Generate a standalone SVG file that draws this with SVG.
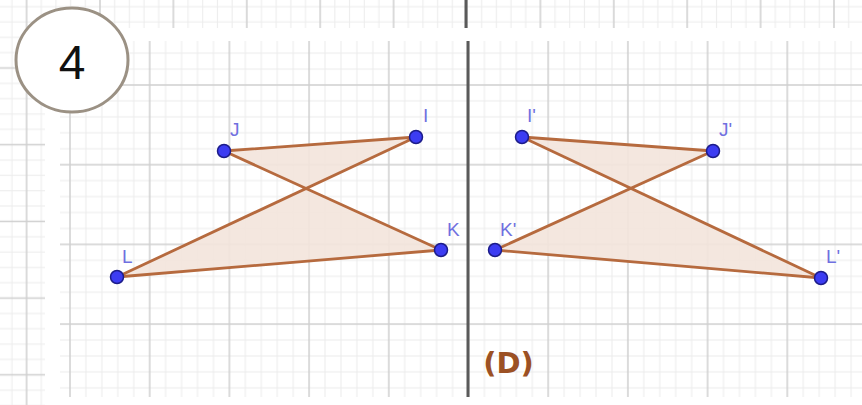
<svg xmlns="http://www.w3.org/2000/svg" width="862" height="405" viewBox="0 0 862 405">
  <style>
    .minor { stroke: #ececec; stroke-width: 1; fill: none; }
    .major { stroke: #cfcfcf; stroke-width: 1.5; fill: none; }
    .shape { fill: #f3e4dc; fill-opacity: 0.9; stroke: #b66a3e; stroke-width: 2.8; stroke-linejoin: round; }
    .pt { fill: #3c3cf2; stroke: #1c1c8a; stroke-width: 1.5; }
    .lbl { font-family: "Liberation Sans", Arial, sans-serif; font-size: 19px; fill: #7070e0; }
  </style>
  <defs>
    <pattern id="gmain" patternUnits="userSpaceOnUse" x="30.15" y="45.15" width="79.7" height="79.7">
      <path class="minor" d="M7.97 0V79.7M23.91 0V79.7M55.79 0V79.7M71.73 0V79.7M0 7.97H79.7M0 23.91H79.7M0 55.79H79.7M0 71.73H79.7"/>
      <path class="major" d="M39.85 0V79.7M0 39.85H79.7"/>
    </pattern>
    <pattern id="gstrip" patternUnits="userSpaceOnUse" x="63.3" y="29.65" width="73.4" height="76.7">
      <path class="minor" d="M7.34 0V76.7M22.02 0V76.7M51.38 0V76.7M66.06 0V76.7M0 7.67H73.4M0 23.01H73.4M0 53.69H73.4M0 69.03H73.4"/>
      <path class="major" d="M36.7 0V76.7M0 38.35H73.4"/>
    </pattern>
  </defs>
  <rect width="862" height="405" fill="#ffffff"/>
  <g id="background-grid">
    <rect x="0" y="0" width="862" height="28" fill="url(#gstrip)"/>
    <rect x="0" y="28" width="45" height="377" fill="url(#gstrip)"/>
    <rect x="60" y="41" width="802" height="356" fill="#ffffff"/>
    <rect x="60" y="41" width="802" height="356" fill="url(#gmain)"/>
  </g>
  <g id="axis">
    <line x1="466" y1="0" x2="466" y2="28" stroke="#5a5a5a" stroke-width="3"/>
    <line x1="468" y1="41" x2="468" y2="397" stroke="#5a5a5a" stroke-width="3"/>
  </g>
  <g id="badge">
    <ellipse cx="72" cy="60" rx="56" ry="52" fill="#ffffff" stroke="#9b9184" stroke-width="3"/>
    <text x="72" y="79" text-anchor="middle" font-family="Liberation Sans, Arial, sans-serif" font-size="48" fill="#111111">4</text>
  </g>
  <g id="connectors">
    <polygon id="original" class="shape" points="224,151 416,137 117,277 441,250"/>
    <polygon id="image" class="shape" points="522,137 713,151 495,250 821,278"/>
  </g>
  <g id="node-J"><circle class="pt" cx="224" cy="151" r="6.5"/><text class="lbl" x="230" y="136">J</text></g>
  <g id="node-I"><circle class="pt" cx="416" cy="137" r="6.5"/><text class="lbl" x="423" y="122">I</text></g>
  <g id="node-K"><circle class="pt" cx="441" cy="250" r="6.5"/><text class="lbl" x="447" y="236">K</text></g>
  <g id="node-L"><circle class="pt" cx="117" cy="277" r="6.5"/><text class="lbl" x="122" y="263">L</text></g>
  <g id="node-I-prime"><circle class="pt" cx="522" cy="137" r="6.5"/><text class="lbl" x="527" y="122">I'</text></g>
  <g id="node-J-prime"><circle class="pt" cx="713" cy="151" r="6.5"/><text class="lbl" x="719" y="136">J'</text></g>
  <g id="node-K-prime"><circle class="pt" cx="495" cy="250" r="6.5"/><text class="lbl" x="500" y="236">K'</text></g>
  <g id="node-L-prime"><circle class="pt" cx="821" cy="278" r="6.5"/><text class="lbl" x="826" y="263">L'</text></g>
  <g id="caption">
    <text x="508.5" y="373" text-anchor="middle" font-family="DejaVu Sans, sans-serif" font-weight="bold" font-size="29" fill="#9c5124">(D)</text>
  </g>
</svg>
